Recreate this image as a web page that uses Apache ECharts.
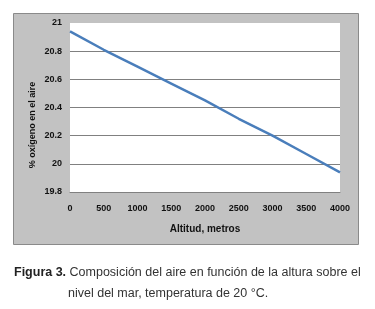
<!DOCTYPE html>
<html><head><meta charset="utf-8">
<script src="https://cdn.jsdelivr.net/npm/echarts@6/dist/echarts.min.js"></script>
<style>html,body{margin:0;padding:0;background:#fff}#c{width:375px;height:309px}</style>
</head><body><div id="c"></div>
<script>
const categories = ['0','500','1000','1500','2000','2500','3000','3500','4000'];
const oxygen = [20.94, 20.81, 20.69, 20.57, 20.45, 20.32, 20.20, 20.07, 19.94];
const yTicks = [19.8, 20, 20.2, 20.4, 20.6, 20.8, 21];
const xTitle = 'Altitud, metros';
const yTitle = '% oxígeno en el aire';
const caption1a = 'Figura 3.';
const caption1b = ' Composición del aire en función de la altura sobre el';
const caption2 = 'nivel del mar, temperatura de 20 °C.';

const chart = echarts.init(document.getElementById('c'), null, {renderer:'canvas'});
const F = 'Liberation Sans, Arial, sans-serif';
chart.setOption({
  animation:false,
  backgroundColor:'#fff',
  graphic:[
    {type:'rect', z:-10, shape:{x:13.5,y:13.5,width:345,height:231}, style:{fill:'#c2c2c2', stroke:'#8a8a8a', lineWidth:1}},
    {type:'text', x:33, y:125, rotation:Math.PI/2, style:{text:yTitle, fontFamily:F, fontSize:9, fontWeight:'bold', fill:'#111', align:'center', verticalAlign:'middle'}},
    {type:'text', left:14, top:266, style:{text:'{b|'+caption1a+'}{r|'+caption1b+'}', rich:{
      b:{fontFamily:F,fontSize:12.5,fontWeight:'bold',fill:'#222'},
      r:{fontFamily:F,fontSize:12.5,fill:'#333'}}}},
    {type:'text', left:68, top:287, style:{text:caption2, fontFamily:F, fontSize:12.5, fill:'#333'}}
  ],
  grid:{left:70,right:35,top:23,bottom:117,show:true,backgroundColor:'#fff',borderWidth:0},
  xAxis:{type:'category',data:categories,boundaryGap:false,
    name:xTitle,nameLocation:'middle',nameGap:32,
    nameTextStyle:{fontFamily:F,fontSize:10,fontWeight:'bold',color:'#111'},
    axisLine:{show:true,lineStyle:{color:'#808080',width:1}},
    axisTick:{show:false},
    axisLabel:{fontFamily:F,fontSize:9,fontWeight:'bold',color:'#111',margin:12},
    splitLine:{show:false}},
  yAxis:{type:'value',min:yTicks[0],max:yTicks[yTicks.length-1],interval:0.2,
    axisLine:{show:false},axisTick:{show:false},
    axisLabel:{fontFamily:F,fontSize:9,fontWeight:'bold',color:'#111',margin:8,
      formatter:v=>String(+v.toFixed(1))},
    splitLine:{show:true,lineStyle:{color:['#808080','#808080','#808080','#808080','#808080','#808080','rgba(0,0,0,0)'],width:1}}},
  series:[{type:'line',data:oxygen,symbol:'none',lineStyle:{color:'#4a7ebb',width:2.5}}]
});
</script></body></html>
